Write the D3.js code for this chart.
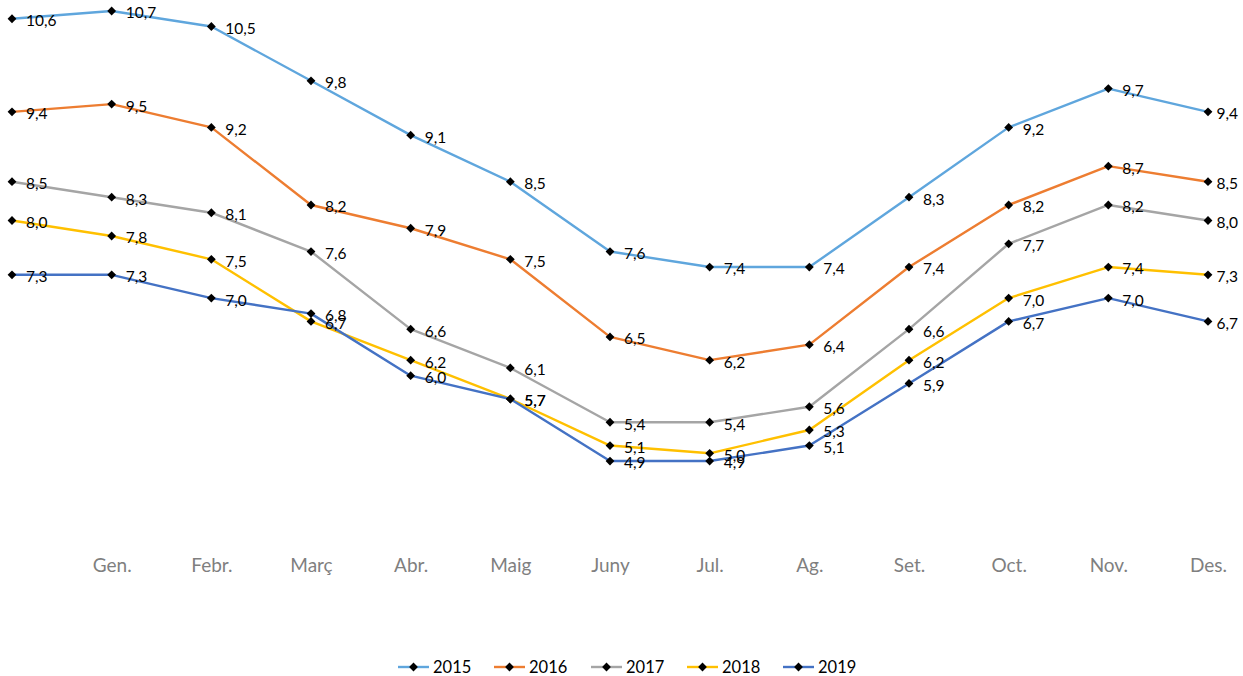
<!DOCTYPE html>
<html>
<head>
<meta charset="utf-8">
<script src="https://cdn.jsdelivr.net/npm/d3@7"></script>
<style>
  html, body { margin: 0; padding: 0; background: #fff; }
  svg { display: block; }
  text { font-family: Lato, "Open Sans", "Liberation Sans", sans-serif; }
</style>
</head>
<body>
<svg id="chart" width="1243" height="676"></svg>
<script>
// Month categories (first slot is an unlabeled starting point)
const months = ["", "Gen.", "Febr.", "Març", "Abr.", "Maig", "Juny", "Jul.", "Ag.", "Set.", "Oct.", "Nov.", "Des."];

const years = ["2015", "2016", "2017", "2018", "2019"];
const values2015 = [10.6, 10.7, 10.5, 9.8, 9.1, 8.5, 7.6, 7.4, 7.4, 8.3, 9.2, 9.7, 9.4];
const values2016 = [9.4, 9.5, 9.2, 8.2, 7.9, 7.5, 6.5, 6.2, 6.4, 7.4, 8.2, 8.7, 8.5];
const values2017 = [8.5, 8.3, 8.1, 7.6, 6.6, 6.1, 5.4, 5.4, 5.6, 6.6, 7.7, 8.2, 8.0];
const values2018 = [8.0, 7.8, 7.5, 6.7, 6.2, 5.7, 5.1, 5.0, 5.3, 6.2, 7.0, 7.4, 7.3];
const values2019 = [7.3, 7.3, 7.0, 6.8, 6.0, 5.7, 4.9, 4.9, 5.1, 5.9, 6.7, 7.0, 6.7];
const colors = ["#5fa6dd", "#ED7D31", "#A5A5A5", "#FFC000", "#4472C4"];

const series = [values2015, values2016, values2017, values2018, values2019]
  .map((vals, i) => ({ name: years[i], color: colors[i], values: vals }));

const W = 1243;
const svg = d3.select("#chart");

const x = d3.scalePoint()
  .domain(d3.range(months.length))
  .range([12, 1208]);

const y = d3.scaleLinear()
  .domain([4, 11])
  .range([530.9, -12.3]);

// Category axis (labels only, no line or ticks)
const xAxis = d3.axisBottom(x)
  .tickSize(0)
  .tickPadding(0)
  .tickFormat(i => months[i]);

const axisG = svg.append("g")
  .attr("transform", "translate(0,552)")
  .call(xAxis);
axisG.select(".domain").remove();
axisG.selectAll("text")
  .attr("dy", "0.35em")
  .attr("y", 13)
  .attr("fill", "#7f7f7f")
  .style("font-size", "19px")
  .style("font-family", "Lato, 'Open Sans', sans-serif");

const line = d3.line()
  .x((d, i) => x(i))
  .y(d => y(d));

// Square diamond marker
const diamondPath = "M0,-4.4L4.4,0L0,4.4L-4.4,0Z";

// Lines, then markers, then value labels
const lineG = svg.append("g");
series.forEach(s => {
  lineG.append("path")
    .datum(s.values)
    .attr("fill", "none")
    .attr("stroke", s.color)
    .attr("stroke-width", 2.4)
    .attr("stroke-linejoin", "round")
    .attr("d", line);
});

const markG = svg.append("g");
series.forEach(s => {
  markG.selectAll(null)
    .data(s.values)
    .join("path")
    .attr("d", diamondPath)
    .attr("transform", (d, i) => `translate(${x(i)},${y(d)})`)
    .attr("fill", "#000");
});

// Value labels to the right of each point, pulled back inside the right edge when needed
const fmt = v => d3.format(".1f")(v).replace(".", ",");
const labelG = svg.append("g");
series.forEach(s => {
  labelG.selectAll(null)
    .data(s.values)
    .join("text")
    .attr("y", d => y(d) + 2)
    .attr("dy", "0.35em")
    .attr("fill", "#000")
    .style("font-size", "15.5px")
    .text(fmt)
    .attr("x", function (d, i) {
      const w = this.getComputedTextLength();
      return Math.min(x(i) + 14, W - 5 - w);
    });
});

// Legend
const legendX = [398, 494, 591, 687, 783];
const legend = svg.append("g").attr("transform", "translate(0,667)");
series.forEach((s, i) => {
  const g = legend.append("g").attr("transform", `translate(${legendX[i]},0)`);
  g.append("line")
    .attr("x1", 0).attr("x2", 31)
    .attr("y1", 0).attr("y2", 0)
    .attr("stroke", s.color)
    .attr("stroke-width", 2.4);
  g.append("path")
    .attr("d", diamondPath)
    .attr("transform", "translate(15.5,0)")
    .attr("fill", "#000");
  g.append("text")
    .attr("x", 35)
    .attr("dy", "0.35em")
    .attr("fill", "#000")
    .style("font-size", "16.5px")
    .text(s.name);
});
</script>
</body>
</html>
